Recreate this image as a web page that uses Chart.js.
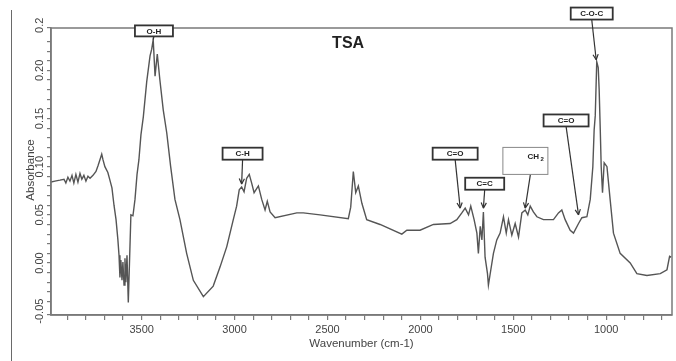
<!DOCTYPE html>
<html>
<head>
<meta charset="utf-8">
<script src="https://cdn.jsdelivr.net/npm/chart.js@4.4.1/dist/chart.umd.min.js"></script>
<style>
  html, body { margin: 0; padding: 0; background: #fff; }
  #wrap { position: relative; width: 676px; height: 361px; }
  #ftir { position: absolute; left: 0; top: 0; }
  #edge { position: absolute; left: 11px; top: 10px; height: 351px; border-left: 1.5px solid #6a6a6a; }
</style>
</head>
<body>
<div id="wrap">
  <canvas id="ftir" width="676" height="361"></canvas>
  <div id="edge"></div>
</div>
<script>
// ---------------------------------------------------------------------------
// FTIR spectrum of TSA
// ---------------------------------------------------------------------------
const wavenumber = [
  3988, 3967, 3940, 3918, 3908, 3897, 3886, 3875, 3865, 3854,
  3843, 3832, 3822, 3811, 3800, 3789, 3778, 3762, 3746, 3735,
  3725, 3715, 3708, 3698, 3682, 3671, 3660, 3649, 3638, 3628,
  3622, 3617, 3612, 3606, 3601, 3595, 3590, 3585, 3579, 3572,
  3566, 3558, 3547, 3536, 3525, 3515, 3504, 3491, 3473, 3455,
  3446, 3438, 3428, 3416, 3402, 3384, 3365, 3344, 3321, 3294,
  3258, 3222, 3168, 3115, 3078, 3042, 3007, 2989, 2975, 2962,
  2949, 2935, 2921, 2908, 2895, 2872, 2854, 2836, 2824, 2809,
  2782, 2665, 2630, 2540, 2388, 2375, 2361, 2348, 2334, 2315,
  2289, 2217, 2100, 2073, 2002, 1930, 1840, 1804, 1777, 1759,
  1741, 1729, 1711, 1696, 1688, 1678, 1669, 1661, 1652, 1639,
  1634, 1621, 1607, 1589, 1571, 1553, 1538, 1526, 1508, 1490,
  1472, 1454, 1436, 1422, 1409, 1392, 1373, 1338, 1284, 1257,
  1239, 1221, 1194, 1176, 1149, 1131, 1104, 1086, 1072, 1065,
  1059, 1051, 1043, 1038, 1032, 1027, 1020, 1011, 996, 979,
  961, 925, 871, 835, 781, 709, 673, 659, 650
];
const absorbance = [
  0.084, 0.085, 0.086, 0.087, 0.083, 0.089, 0.085, 0.091, 0.083, 0.092,
  0.084, 0.093, 0.087, 0.091, 0.085, 0.090, 0.088, 0.091, 0.095, 0.101,
  0.107, 0.113, 0.107, 0.100, 0.094, 0.086, 0.078, 0.060, 0.045, 0.024,
  0.008, -0.015, 0.003, -0.018, 0.001, -0.023, 0.005, -0.020, 0.008, -0.041,
  -0.002, 0.050, 0.049, 0.066, 0.092, 0.107, 0.133, 0.152, 0.188, 0.215,
  0.222, 0.232, 0.194, 0.217, 0.190, 0.159, 0.135, 0.100, 0.066, 0.045,
  0.010, -0.018, -0.035, -0.024, -0.004, 0.017, 0.045, 0.059, 0.076, 0.079,
  0.074, 0.088, 0.092, 0.083, 0.073, 0.080, 0.066, 0.055, 0.064, 0.053,
  0.047, 0.052, 0.052, 0.050, 0.046, 0.058, 0.095, 0.073, 0.080, 0.062,
  0.045, 0.040, 0.030, 0.034, 0.034, 0.040, 0.041, 0.045, 0.052, 0.057,
  0.050, 0.059, 0.045, 0.031, 0.010, 0.038, 0.024, 0.053, 0.006, -0.011,
  -0.023, -0.007, 0.010, 0.024, 0.031, 0.048, 0.031, 0.045, 0.029, 0.041,
  0.027, 0.052, 0.055, 0.050, 0.059, 0.053, 0.048, 0.045, 0.045, 0.052,
  0.055, 0.045, 0.034, 0.031, 0.041, 0.047, 0.048, 0.066, 0.100, 0.138,
  0.153, 0.209, 0.203, 0.180, 0.138, 0.100, 0.073, 0.104, 0.100, 0.066,
  0.031, 0.010, 0.000, -0.011, -0.013, -0.011, -0.007, 0.007, 0.006
];

// axis ticks
const xLabelEvery = 500;
const yTickLabels = [-0.05, 0.00, 0.05, 0.10, 0.15, 0.20, 0.25];

// band assignments: label, where the box sits, where the arrow points (data units)
const bandLabels  = ['O-H', 'C-H', 'C=O', 'C=C', 'CH2', 'C=O', 'C-O-C'];
const boxWn       = [3434, 2957, 1813, 1654, 1435, 1216, 1078];
const boxAbs      = [0.241, 0.1135, 0.1135, 0.0823, 0.106, 0.148, 0.259];
const tipWn       = [3438, 2962, 1786, 1661, 1436, 1149, 1054];
const tipAbs      = [0.232, 0.082, 0.057, 0.057, 0.057, 0.050, 0.211];

const INK = '#444';
const FRAME = '#7a7a7a';

// box sizes / styles per label
const boxStyle = {
  'O-H':   { w: 38, h: 11, head: false },
  'C-H':   { w: 40, h: 12, head: true },
  'C=O':   { w: 45, h: 12, head: true },
  'C=C':   { w: 39, h: 12, head: true },
  'CH2':   { w: 45, h: 27, head: true, thin: true },
  'C-O-C': { w: 42, h: 12, head: true }
};

function drawArrow(ctx, x0, y0, x1, y1, head) {
  ctx.beginPath();
  ctx.moveTo(x0, y0);
  ctx.lineTo(x1, y1);
  ctx.stroke();
  if (!head) return;
  const a = Math.atan2(y1 - y0, x1 - x0);
  const L = 6, s = 0.45;
  ctx.beginPath();
  ctx.moveTo(x1, y1);
  ctx.lineTo(x1 - L * Math.cos(a - s), y1 - L * Math.sin(a - s));
  ctx.moveTo(x1, y1);
  ctx.lineTo(x1 - L * Math.cos(a + s), y1 - L * Math.sin(a + s));
  ctx.stroke();
}

const decorPlugin = {
  id: 'decor',
  afterDraw(chart) {
    const { ctx, chartArea: a, scales: { x, y } } = chart;
    ctx.save();

    // frame (top + right; bottom/left come from the axes)
    ctx.strokeStyle = FRAME;
    ctx.lineWidth = 1.5;
    ctx.strokeRect(a.left, a.top, a.right - a.left, a.bottom - a.top);

    // rotated y tick labels (the top one is cut by the figure edge)
    ctx.save();
    ctx.beginPath();
    ctx.rect(0, 17.5, 60, 344);
    ctx.clip();
    ctx.fillStyle = INK;
    ctx.font = '11px "Liberation Sans", Arial, sans-serif';
    ctx.textAlign = 'center';
    ctx.textBaseline = 'middle';
    yTickLabels.forEach(v => {
      const py = y.getPixelForValue(v);
      ctx.save();
      ctx.translate(40, py);
      ctx.rotate(-Math.PI / 2);
      ctx.fillText(v.toFixed(2), 0, 0);
      ctx.restore();
    });
    ctx.restore();

    // y axis title
    ctx.save();
    ctx.fillStyle = INK;
    ctx.font = '11.5px "Liberation Sans", Arial, sans-serif';
    ctx.textAlign = 'center';
    ctx.textBaseline = 'middle';
    ctx.translate(31, 170);
    ctx.rotate(-Math.PI / 2);
    ctx.fillText('Absorbance', 0, 0);
    ctx.restore();

    // sample name
    ctx.fillStyle = '#222';
    ctx.font = 'bold 16px "Liberation Sans", Arial, sans-serif';
    ctx.textAlign = 'center';
    ctx.textBaseline = 'middle';
    ctx.fillText('TSA', x.getPixelForValue(2389), y.getPixelForValue(0.228));

    // band call-outs
    bandLabels.forEach((lab, i) => {
      const st = boxStyle[lab];
      const bx = x.getPixelForValue(boxWn[i]);
      const by = y.getPixelForValue(boxAbs[i]);
      const tx = x.getPixelForValue(tipWn[i]);
      const ty = y.getPixelForValue(tipAbs[i]);
      const fromX = st.thin ? bx + 5 : bx;

      ctx.strokeStyle = '#333';
      ctx.lineWidth = 1.2;
      drawArrow(ctx, fromX, by + st.h / 2, tx, ty, st.head);

      ctx.fillStyle = '#fff';
      ctx.fillRect(bx - st.w / 2, by - st.h / 2, st.w, st.h);
      ctx.strokeStyle = st.thin ? '#888' : '#333';
      ctx.lineWidth = st.thin ? 1 : 1.8;
      ctx.strokeRect(bx - st.w / 2, by - st.h / 2, st.w, st.h);

      ctx.fillStyle = '#222';
      ctx.font = 'bold 8px "Liberation Sans", Arial, sans-serif';
      ctx.textBaseline = 'middle';
      if (lab === 'CH2') {
        ctx.textAlign = 'left';
        ctx.fillText('CH', bx + 2, by - 4);
        ctx.font = 'bold 6px "Liberation Sans", Arial, sans-serif';
        ctx.fillText('2', bx + 15, by - 2);
      } else {
        ctx.textAlign = 'center';
        ctx.fillText(lab, bx, by + 0.5);
      }
    });

    ctx.restore();
  }
};

function initFtirChart() {
  const ctx = document.getElementById('ftir').getContext('2d');

  new Chart(ctx, {
    type: 'line',
    data: {
      datasets: [{
        label: 'TSA',
        data: wavenumber.map((w, i) => ({ x: w, y: absorbance[i] })),
        borderColor: '#555',
        borderWidth: 1.4,
        pointRadius: 0,
        tension: 0,
        fill: false
      }]
    },
    options: {
      responsive: false,
      animation: false,
      layout: { padding: { top: 28, right: 4, left: 0, bottom: 0 } },
      plugins: {
        legend: { display: false },
        tooltip: { enabled: false }
      },
      scales: {
        x: {
          type: 'linear',
          reverse: true,
          min: 646,
          max: 3988,
          afterFit: s => { s.height = 46; },
          ticks: {
            stepSize: 100,
            includeBounds: false,
            autoSkip: false,
            maxRotation: 0,
            padding: 3,
            color: INK,
            font: { family: '"Liberation Sans", Arial, sans-serif', size: 11 },
            callback: v => (v % xLabelEvery === 0 ? String(v) : '')
          },
          grid: { drawOnChartArea: false, drawTicks: true, tickLength: 5, color: FRAME, lineWidth: 1.2 },
          border: { color: FRAME, width: 1.5 },
          title: {
            display: true,
            text: 'Wavenumber (cm-1)',
            color: INK,
            padding: { top: 1, bottom: 10 },
            font: { family: '"Liberation Sans", Arial, sans-serif', size: 11.5 }
          }
        },
        y: {
          min: -0.054,
          max: 0.244,
          afterFit: s => { s.width = 51; },
          ticks: { stepSize: 0.01, display: false },
          grid: { drawOnChartArea: false, drawTicks: true, tickLength: 4, color: FRAME, lineWidth: 1.2 },
          border: { color: FRAME, width: 1.5 }
        }
      }
    },
    plugins: [decorPlugin]
  });
}

if (document.readyState === 'loading') {
  document.addEventListener('DOMContentLoaded', initFtirChart);
} else {
  initFtirChart();
}
</script>
</body>
</html>
